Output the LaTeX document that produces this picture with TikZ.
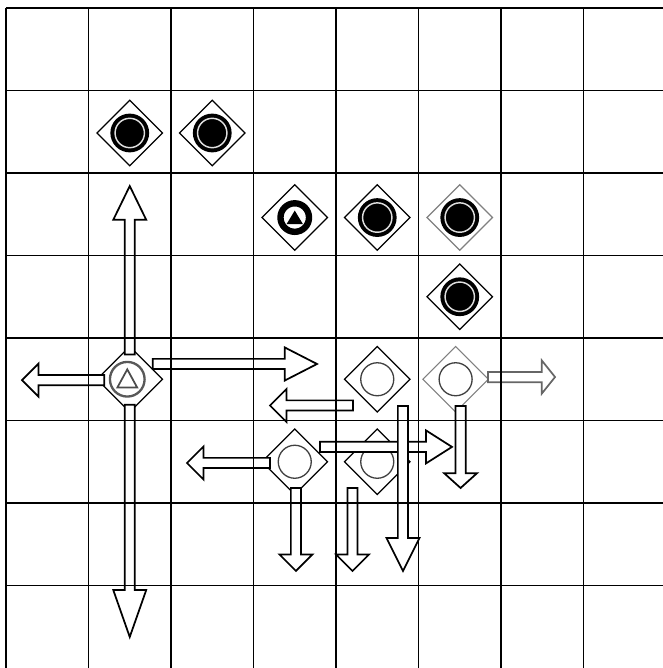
\documentclass[tikz,border=0pt]{standalone}
\usetikzlibrary{shapes.geometric}
% fat move arrows: [colour]{fixed coordinate}{start}{tip}{signed head length}
\newcommand\hmove[5][black]{%
  \draw[movearrow,draw=#1] (#3,#2-0.062) -- ({#4-(#5)},#2-0.062)
    -- ({#4-(#5)},#2-0.2) -- (#4,#2) -- ({#4-(#5)},#2+0.2)
    -- ({#4-(#5)},#2+0.062) -- (#3,#2+0.062) -- cycle;}
\newcommand\vmove[5][black]{%
  \draw[movearrow,draw=#1] (#2-0.062,#3) -- (#2-0.062,{#4-(#5)})
    -- (#2-0.2,{#4-(#5)}) -- (#2,#4) -- (#2+0.2,{#4-(#5)})
    -- (#2+0.062,{#4-(#5)}) -- (#2+0.062,#3) -- cycle;}
\begin{document}
\begin{tikzpicture}[x=1cm,y=-1cm,
  gridline/.style={line width=0.6pt},
  rim/.style={diamond,draw,line width=0.4pt,fill=white,minimum size=0.8cm,inner sep=0pt},
  blackstone/.style={circle,fill=black,minimum size=0.47cm,inner sep=0pt,
    path picture={\draw[gray!25,line width=0.5pt] (path picture bounding box.center) circle (0.178cm);}},
  ringstone/.style={circle,draw,fill=white,line width=2.2pt,minimum size=0.346cm,inner sep=0pt},
  whitestone/.style={circle,draw=black!75,line width=0.45pt,minimum size=0.4cm,inner sep=0pt},
  movearrow/.style={line width=0.6pt,fill=white}]
\useasboundingbox (-0.0727,-0.097) rectangle (7.952,8);
% black side
\node[rim] (d11) at (1.5,1.515) {};
\node[blackstone] (s11) at (d11) {};
\node[rim] (d21) at (2.5,1.515) {};
\node[blackstone] (s21) at (d21) {};
\node[rim] (d32) at (3.5,2.54) {};
\node[ringstone] (s32) at (d32) {};
\fill (s32.center) ++(0,-0.085) -- ++(0.1,0.166) -- ++(-0.2,0) -- cycle;
\node[rim] (d42) at (4.5,2.54) {};
\node[blackstone] (s42) at (d42) {};
\node[rim,draw=gray] (d52) at (5.5,2.54) {};
\node[blackstone] (s52) at (d52) {};
\node[rim] (d53) at (5.5,3.5) {};
\node[blackstone] (s53) at (d53) {};
% white side
\node[rim] (d14) at (1.5,4.5) {};
\node[whitestone,draw=gray!70!black,line width=0.8pt,minimum size=0.42cm] (s14) at (1.47,4.5) {};
\draw[gray!60!black,line width=0.6pt] (s14.center) ++(0,-0.12) -- ++(0.12,0.22) -- ++(-0.24,0) -- cycle;
\node[rim] (d44) at (4.5,4.5) {};
\node[whitestone] (s44) at (d44) {};
\node[rim,draw=gray] (d54) at (5.45,4.5) {};
\node[whitestone] (s54) at (d54) {};
\node[rim] (d35) at (3.5,5.5) {};
\node[whitestone] (s35) at (d35) {};
\node[rim] (d45) at (4.5,5.5) {};
\node[whitestone] (s45) at (d45) {};
% moves
\vmove{1.5}{4.2}{2.158}{-0.41}
\vmove{1.5}{4.81}{7.624}{0.57}
\hmove{4.51}{1.19}{0.194}{-0.2}
\hmove{4.315}{1.78}{3.77}{0.39}
\hmove{4.818}{4.206}{3.2}{-0.2}
\hmove{5.32}{3.806}{5.406}{0.315}
\vmove{4.812}{4.824}{6.824}{0.4}
\vmove{5.51}{4.824}{5.818}{0.18}
\hmove[gray!80!black]{4.473}{5.842}{6.655}{0.16}
\hmove{5.515}{3.2}{2.194}{-0.2}
\vmove{3.515}{5.818}{6.824}{0.2}
\vmove{4.2}{5.818}{6.824}{0.2}
% board on top
\foreach \i in {0,...,7}
  \draw[gridline] (\i,0) -- (\i,8.1);
\foreach \j in {0,...,7}
  \draw[gridline] (0,\j) -- (8.1,\j);
\end{tikzpicture}
\end{document}
